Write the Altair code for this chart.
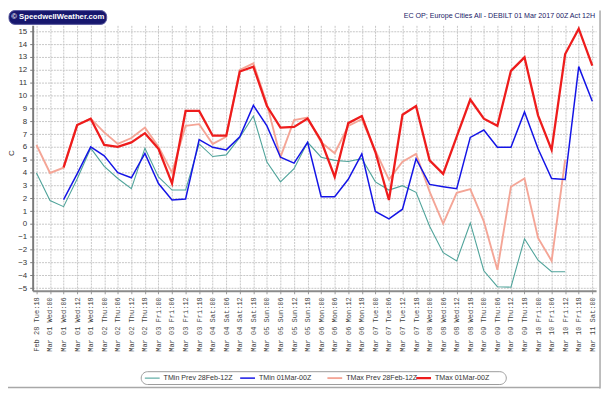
import altair as alt
import pandas as pd

# ---------------- data ----------------
labels = [
    "Feb 28 Tue:18",
    "Mar 01 Wed:00", "Mar 01 Wed:06", "Mar 01 Wed:12", "Mar 01 Wed:18",
    "Mar 02 Thu:00", "Mar 02 Thu:06", "Mar 02 Thu:12", "Mar 02 Thu:18",
    "Mar 03 Fri:00", "Mar 03 Fri:06", "Mar 03 Fri:12", "Mar 03 Fri:18",
    "Mar 04 Sat:00", "Mar 04 Sat:06", "Mar 04 Sat:12", "Mar 04 Sat:18",
    "Mar 05 Sun:00", "Mar 05 Sun:06", "Mar 05 Sun:12", "Mar 05 Sun:18",
    "Mar 06 Mon:00", "Mar 06 Mon:06", "Mar 06 Mon:12", "Mar 06 Mon:18",
    "Mar 07 Tue:00", "Mar 07 Tue:06", "Mar 07 Tue:12", "Mar 07 Tue:18",
    "Mar 08 Wed:00", "Mar 08 Wed:06", "Mar 08 Wed:12", "Mar 08 Wed:18",
    "Mar 09 Thu:00", "Mar 09 Thu:06", "Mar 09 Thu:12", "Mar 09 Thu:18",
    "Mar 10 Fri:00", "Mar 10 Fri:06", "Mar 10 Fri:12", "Mar 10 Fri:18",
    "Mar 11 Sat:00",
]

series_names = ["TMin Prev 28Feb-12Z", "TMin 01Mar-00Z",
                "TMax Prev 28Feb-12Z", "TMax 01Mar-00Z"]

# TMin Prev 28Feb-12Z : Feb 28 Tue:18 .. Mar 10 Fri:12
tmin_prev = [3.97, 1.82, 1.35, 3.5, 5.9, 4.48, 3.54, 2.75, 5.9, 3.66,
             2.64, 2.64, 6.23, 5.25, 5.38, 6.74, 8.4, 4.82, 3.28, 4.3,
             6.36, 5.2, 4.95, 4.87, 5.08, 3.28, 2.64, 2.98, 2.46, -0.18,
             -2.23, -2.87, 0.08, -3.64, -4.88, -4.92, -1.15, -2.82, -3.72, -3.72]
tmin_prev_start = 0

# TMin 01Mar-00Z : Mar 01 Wed:06 .. Mar 11 Sat:00
tmin_new = [1.9, 3.9, 6.0, 5.3, 4.0, 3.6, 5.5, 3.15, 1.87, 1.95,
            6.56, 5.97, 5.77, 6.79, 9.23, 7.64, 5.2, 4.74, 6.36, 2.12,
            2.12, 3.48, 5.46, 0.97, 0.4, 1.15, 5.08, 3.08, 2.9, 2.74,
            6.74, 7.31, 5.97, 5.97, 8.72, 5.85, 3.54, 3.46, 12.25, 9.56]
tmin_new_start = 2

# TMax Prev 28Feb-12Z : Feb 28 Tue:18 .. Mar 10 Fri:12
tmax_prev = [6.15, 3.97, 4.38, 7.7, 8.2, 7.13, 6.23, 6.69, 7.5, 6.02,
             4.0, 7.64, 7.77, 6.23, 6.79, 12.0, 12.5, 9.33, 5.2, 8.08,
             8.28, 6.36, 5.51, 7.64, 8.15, 5.7, 3.46, 4.85, 5.46, 2.51,
             0.02, 2.43, 2.72, 0.2, -3.57, 2.9, 3.54, -1.08, -2.87, 5.0]
tmax_prev_start = 0

# TMax 01Mar-00Z : Mar 01 Wed:06 .. Mar 11 Sat:00
tmax_new = [4.4, 7.7, 8.2, 6.15, 6.0, 6.35, 7.07, 5.85, 3.15, 8.8,
            8.8, 6.87, 6.87, 11.87, 12.25, 9.18, 7.5, 7.56, 8.2, 6.48,
            3.66, 7.85, 8.4, 5.6, 1.87, 8.5, 9.18, 4.95, 3.9, 6.8,
            9.69, 8.2, 7.64, 11.92, 12.97, 8.46, 5.77, 13.23, 15.2, 12.33]
tmax_new_start = 2

y_ticks = list(range(-5, 16))

title_text = "EC OP; Europe Cities All - DEBILT 01 Mar 2017 00Z Act 12H"
logo_text = "\u00a9 SpeedwellWeather.com"

# ---------------- styles / layout ----------------
series_colors = ["#4fa39a", "#1414e6", "#f4a596", "#ee1c1c"]
series_widths = [1.1, 2.3, 1.1, 2.3]
draw_order = [0, 2, 1, 3]

W, H = 571, 269
legend_y = 357.5
legend_line_x = [113.7, 210.3, 298.7, 388.7]

rows = []
for name, start, vals in [
    (series_names[0], tmin_prev_start, tmin_prev),
    (series_names[1], tmin_new_start, tmin_new),
    (series_names[2], tmax_prev_start, tmax_prev),
    (series_names[3], tmax_new_start, tmax_new),
]:
    for k, v in enumerate(vals):
        rows.append({"series": name, "time": labels[start + k], "temp": v})
df = pd.DataFrame(rows)

x_enc = alt.X(
    "time:N",
    scale=alt.Scale(type="point", domain=labels, padding=0.28),
    axis=alt.Axis(
        title=None, labelAngle=270, labelFont="Liberation Mono",
        labelFontSize=7.1, labelColor="#444444", labelOverlap=False,
        labelPadding=3, tickSize=3, tickColor="#9a9a9a",
        domainColor="#8a8a8a", domainWidth=2,
        grid=True, gridColor="#c6c6c6", gridDash=[2, 1], gridWidth=1,
    ),
)
y_enc = alt.Y(
    "temp:Q",
    scale=alt.Scale(domain=[-5.2, 15.46], nice=False, zero=False),
    axis=alt.Axis(
        title="C", values=y_ticks, labelFont="Liberation Sans",
        labelFontSize=8, labelColor="#333333", labelPadding=3,
        tickSize=3, tickColor="#7a7a7a", domainColor="#7a7a7a", domainWidth=2,
        grid=True, gridColor="#c6c6c6", gridDash=[2, 1], gridWidth=1,
        titleX=-21, titleY=129, titleAngle=270, titleAlign="center",
        titleBaseline="middle", titleFont="Liberation Sans",
        titleFontSize=8, titleFontWeight="normal", titleColor="#333333",
    ),
)

color_scale = alt.Scale(domain=series_names, range=series_colors)
width_scale = alt.Scale(domain=series_names, range=series_widths)

layers = []
for idx in draw_order:
    layers.append(
        alt.Chart(df).transform_filter(alt.datum.series == series_names[idx])
        .mark_line(strokeJoin="miter")
        .encode(
            x=x_enc, y=y_enc,
            color=alt.Color("series:N", scale=color_scale, legend=None),
            strokeWidth=alt.StrokeWidth("series:N", scale=width_scale, legend=None),
        )
    )

one = pd.DataFrame({"a": [0]})

# header: logo box and title
logo_box = alt.Chart(one).mark_rect(
    fill="#17176e", cornerRadius=6, stroke="#5a5aa0", strokeWidth=1
).encode(x=alt.value(-24), x2=alt.value(75), y=alt.value(-15), y2=alt.value(-1))
logo = alt.Chart(one).mark_text(
    text=logo_text, font="Liberation Sans", fontSize=7.8, fontWeight="bold",
    color="white", align="center", baseline="middle"
).encode(x=alt.value(25.5), y=alt.value(-8))
title = alt.Chart(one).mark_text(
    text=title_text, font="Liberation Sans", fontSize=7.2,
    color="#1a1a66", align="right", baseline="middle"
).encode(x=alt.value(570), y=alt.value(-9))

# legend
leg_df = pd.DataFrame({
    "series": series_names,
    "x1": legend_line_x,
    "x2": [v + 15 for v in legend_line_x],
    "tx": [v + 19 for v in legend_line_x],
})
leg_box = alt.Chart(one).mark_rect(
    fill="white", stroke="#9a9a9a", strokeWidth=1, cornerRadius=7
).encode(x=alt.value(110), x2=alt.value(480), y=alt.value(351), y2=alt.value(364))
leg_lines = alt.Chart(leg_df).mark_rule().encode(
    x=alt.X("x1:Q", scale=None), x2="x2:Q", y=alt.value(legend_y),
    color=alt.Color("series:N", scale=color_scale, legend=None),
    strokeWidth=alt.StrokeWidth("series:N", scale=width_scale, legend=None),
)
leg_text = alt.Chart(leg_df).mark_text(
    font="Liberation Sans", fontSize=7.2, color="#333333",
    align="left", baseline="middle"
).encode(x=alt.X("tx:Q", scale=None), y=alt.value(legend_y), text="series:N")

# frame lines
frame_r = alt.Chart(one).mark_rule(color="#a8a8a8", strokeWidth=1.5).encode(
    x=alt.value(575), y=alt.value(-15), y2=alt.value(368))
frame_b = alt.Chart(one).mark_rule(color="#a8a8a8", strokeWidth=1.5).encode(
    x=alt.value(-25), x2=alt.value(575), y=alt.value(367))

chart = alt.layer(
    *layers, logo_box, logo, title, leg_box, leg_lines, leg_text, frame_r, frame_b
).properties(
    width=W, height=H,
    autosize=alt.AutoSizeParams(type="none"),
    padding={"left": 25, "top": 15, "right": 6, "bottom": 102},
    background="white",
).configure_view(stroke=None)

chart.save("out.html", embed_options={"renderer": "svg", "actions": False})
